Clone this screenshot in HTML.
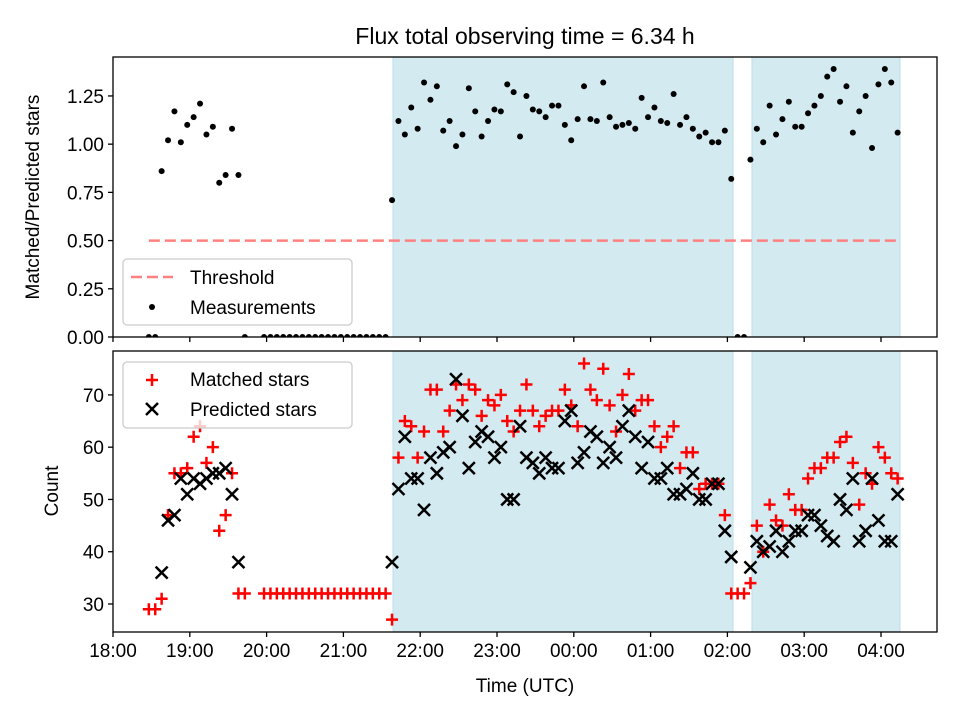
<!DOCTYPE html>
<html><head><meta charset="utf-8"><style>
body{margin:0;background:#fff}
svg{display:block;font-family:"Liberation Sans","DejaVu Sans",sans-serif}
</style></head><body>
<svg id="chart" width="960" height="720" viewBox="0 0 960 720">
<defs>
<clipPath id="clipTop"><rect x="113" y="57" width="824" height="280"/></clipPath>
<clipPath id="clipBot"><rect x="113" y="351" width="824" height="281"/></clipPath>
</defs>
<text x="525" y="44" font-size="23" text-anchor="middle">Flux total observing time = 6.34 h</text>
<g id="topPanel"></g>
<g id="botPanel"></g>
<text x="525" y="692" font-size="19" text-anchor="middle">Time (UTC)</text>
<text transform="translate(39,197) rotate(-90)" font-size="19" text-anchor="middle">Matched/Predicted stars</text>
<text transform="translate(58,491) rotate(-90)" font-size="19" text-anchor="middle">Count</text>
</svg>
<script>
const times=[28,33,38,43,48,53,58,63,68,73,78,83,88,93,98,103,108,113,118,123,128,133,138,143,148,153,158,163,168,173,178,183,188,193,198,203,208,213,218,223,228,233,238,243,248,253,258,263,268,273,278,283,288,293,298,303,308,313,318,323,328,333,338,343,348,353,358,363,368,373,378,383,388,393,398,403,408,413,418,423,428,433,438,443,448,453,458,463,468,473,478,483,488,493,498,503,508,513,518,523,528,533,538,543,548,553,558,563,568,573,578,583,588,593,598,603,608,613];
const matched=[29,29,31,47,55,55,56,62,64,57,60,44,47,55,32,32,null,null,32,32,32,32,32,32,32,32,32,32,32,32,32,32,32,32,32,32,32,32,27,
58,65,64,58,63,71,71,63,67,72,69,72,71,66,69,68,70,65,63,67,72,67,64,66,67,67,71,68,64,76,71,69,75,68,63,70,74,67,69,69,64,60,62,64,56,59,59,52,53,53,53,47,32,32,32,34,45,40,49,46,45,51,48,48,54,56,56,58,58,61,62,57,49,55,53,60,58,55,54];
const predicted=[null,null,36,46,47,54,51,54,53,54,55,55,56,51,38,null,null,null,null,null,null,null,null,null,null,null,null,null,null,null,null,null,null,null,null,null,null,null,38,
52,62,54,54,48,58,55,59,60,73,66,56,61,63,62,58,60,50,50,64,58,57,55,58,56,56,65,67,57,59,63,62,57,60,58,64,67,62,56,61,54,54,56,51,51,52,55,50,50,53,53,44,39,null,null,37,42,40,41,44,40,42,44,44,47,47,45,43,42,50,48,54,42,44,54,46,42,42,51];
const ratio=[0,0,0.86,1.02,1.17,1.01,1.10,1.14,1.21,1.05,1.09,0.80,0.84,1.08,0.84,0,null,null,0,0,0,0,0,0,0,0,0,0,0,0,0,0,0,0,0,0,0,0,0.71,
1.12,1.05,1.19,1.08,1.32,1.23,1.30,1.07,1.12,0.99,1.05,1.29,1.17,1.04,1.12,1.18,1.17,1.31,1.27,1.04,1.25,1.18,1.17,1.14,1.20,1.20,1.10,1.02,1.13,1.30,1.13,1.12,1.32,1.14,1.09,1.10,1.11,1.08,1.24,1.14,1.19,1.12,1.11,1.26,1.10,1.14,1.08,1.04,1.06,1.01,1.01,1.07,0.82,0,0,0.92,1.08,1.01,1.20,1.05,1.13,1.22,1.09,1.09,1.16,1.20,1.25,1.35,1.39,1.22,1.30,1.06,1.17,1.25,0.98,1.31,1.39,1.32,1.06];
const shadeStart=[218.75,499.2];
const shadeEnd=[484.4,614.8];
const threshold=0.5;
const xTickLabels=["18:00","19:00","20:00","21:00","22:00","23:00","00:00","01:00","02:00","03:00","04:00"];
const xTickMinutes=[0,60,120,180,240,300,360,420,480,540,600];
const topTicks=[0,0.25,0.5,0.75,1.0,1.25];
const botTicks=[30,40,50,60,70];

const NS="http://www.w3.org/2000/svg";
const L=113,R=937,TT=57,TB=337,BT=351,BB=632;
const xs=t=>L+t/60*76.8;
const yT=v=>TB-v/1.452*(TB-TT);
const yB=v=>BB-(v-24.64)/(78.4-24.64)*(BB-BT);
function mk(parent,tag,attrs){const e=document.createElementNS(NS,tag);for(const k in attrs)e.setAttribute(k,attrs[k]);parent.appendChild(e);return e;}
const topG=document.getElementById('topPanel'),botG=document.getElementById('botPanel');

function panel(g,yt,yb,clip,pname){
  const bg=mk(g,'rect',{x:L,y:yt,width:R-L,height:yb-yt,fill:'#fff'});
  
  
  for(let i=0;i<shadeStart.length;i++){
    const r=mk(g,'rect',{x:xs(shadeStart[i]),y:yt,width:xs(shadeEnd[i])-xs(shadeStart[i]),height:yb-yt,fill:'#d4eaf1',stroke:'#bcdde8','stroke-width':1,'clip-path':'url(#'+clip+')'});
    
    
  }
}
panel(topG,TT,TB,'clipTop','top');
panel(botG,BT,BB,'clipBot','bottom');

const th=mk(topG,'line',{x1:xs(times[0]),x2:xs(times[times.length-1]),y1:yT(threshold),y2:yT(threshold),stroke:'#ff8080','stroke-width':2.5,'stroke-dasharray':'11,5'});



const tg=mk(topG,'g',{'clip-path':'url(#clipTop)'});
times.forEach((t,i)=>{
  if(ratio[i]===null)return;
  const c=mk(tg,'circle',{cx:xs(t),cy:yT(ratio[i]),r:3,fill:'#000'});
  
  
});
const bg2=mk(botG,'g',{'clip-path':'url(#clipBot)'});
function plus(g,x,y){return mk(g,'path',{d:`M${x-6},${y}H${x+6}M${x},${y-6}V${y+6}`,stroke:'#f00','stroke-width':2.5,fill:'none'});}
function cross(g,x,y){return mk(g,'path',{d:`M${x-6},${y-6}L${x+6},${y+6}M${x-6},${y+6}L${x+6},${y-6}`,stroke:'#000','stroke-width':2.5,fill:'none'});}
times.forEach((t,i)=>{
  if(matched[i]!==null){const p=plus(bg2,xs(t),yB(matched[i]));
    
    }
});
times.forEach((t,i)=>{
  if(predicted[i]!==null){const p=cross(bg2,xs(t),yB(predicted[i]));
    
    }
});

[[TT,TB,topG,'top'],[BT,BB,botG,'bottom']].forEach(([yt,yb,g,n])=>{
  const f=mk(g,'rect',{x:L,y:yt,width:R-L,height:yb-yt,fill:'none',stroke:'#000','stroke-width':1.3});
  
  
  xTickMinutes.forEach((m,i)=>{
    const tk=mk(g,'line',{x1:xs(m),x2:xs(m),y1:yb,y2:yb+5,stroke:'#000','stroke-width':1.3});
    
    
  });
});
xTickMinutes.forEach((m,i)=>{
  const tx=mk(botG,'text',{x:xs(m),y:BB+25,'font-size':19,'text-anchor':'middle'});
  tx.textContent=xTickLabels[i];
  
  
});
topTicks.forEach(v=>{
  const y=yT(v);
  const tk=mk(topG,'line',{x1:L-5,x2:L,y1:y,y2:y,stroke:'#000','stroke-width':1.3});
  
  
  const tx=mk(topG,'text',{x:L-9,y:y+7,'font-size':19,'text-anchor':'end'});
  tx.textContent=v.toFixed(2);
  
  
});
botTicks.forEach(v=>{
  const y=yB(v);
  const tk=mk(botG,'line',{x1:L-5,x2:L,y1:y,y2:y,stroke:'#000','stroke-width':1.3});
  
  
  const tx=mk(botG,'text',{x:L-9,y:y+7,'font-size':19,'text-anchor':'end'});
  tx.textContent=v;
  
  
});

function legendBox(g,y,name){
  const r=mk(g,'rect',{x:123,y:y,width:229,height:66,rx:4,fill:'#fff','fill-opacity':0.8,stroke:'#ccc','stroke-width':1.3});
  
  
}
legendBox(topG,259,'top-legend');
const ld=mk(topG,'line',{x1:131,x2:173,y1:277,y2:277,stroke:'#ff8080','stroke-width':2.5,'stroke-dasharray':'11,5'});


const lc=mk(topG,'circle',{cx:152,cy:307,r:3,fill:'#000'});


const lt1=mk(topG,'text',{x:190,y:284,'font-size':19});lt1.textContent='Threshold';


const lt2=mk(topG,'text',{x:190,y:314,'font-size':19});lt2.textContent='Measurements';



legendBox(botG,362,'bottom-legend');
const lp=plus(botG,152,380);


const lx=cross(botG,152,409);


const lt3=mk(botG,'text',{x:190,y:386,'font-size':19});lt3.textContent='Matched stars';


const lt4=mk(botG,'text',{x:190,y:416,'font-size':19});lt4.textContent='Predicted stars';


</script>
</body></html>
